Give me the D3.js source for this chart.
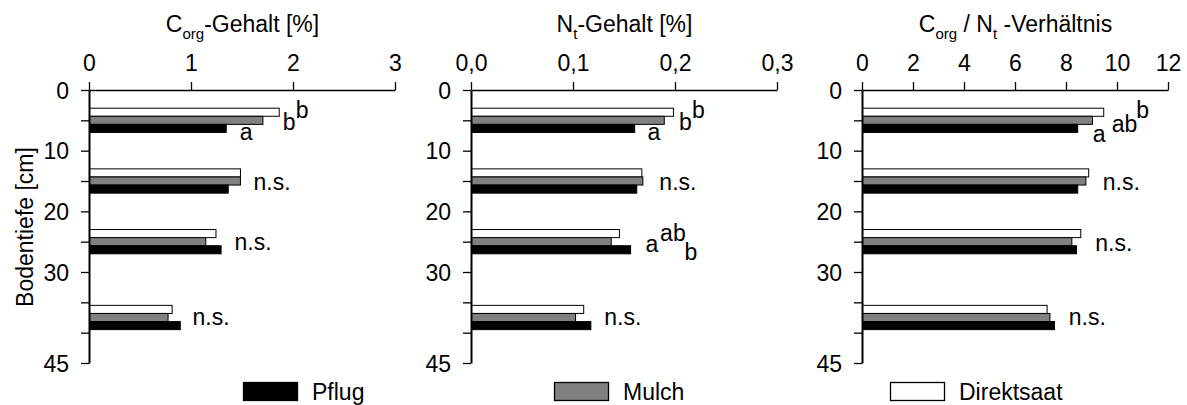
<!DOCTYPE html>
<html>
<head>
<meta charset="utf-8">
<script src="https://cdn.jsdelivr.net/npm/d3@7"></script>
<style>
  body { margin: 0; background: #fff; }
  svg { display: block; font-family: "Liberation Sans", Arial, Helvetica, sans-serif; }
</style>
</head>
<body>
<svg id="chart" width="1187" height="405"></svg>
<script>
// Soil layers (depth in cm) and their mid depths
const layerLabels = ["0-10", "10-20", "20-30", "30-45"];
const layerMid = [5, 15, 25, 37.5];
const depthTicks = [0, 5, 10, 15, 20, 25, 30, 35, 40, 45];
const depthLabels = [0, 10, 20, 30, 45];

// Tillage systems
const seriesNames = ["Pflug", "Mulch", "Direktsaat"];

// Organic carbon content [%]
const corgPflug = [1.34, 1.36, 1.29, 0.89];
const corgMulch = [1.70, 1.48, 1.14, 0.77];
const corgDirekt = [1.86, 1.48, 1.24, 0.81];
const corgTicks = [0, 1, 2, 3];

// Total nitrogen content [%]
const ntPflug = [0.160, 0.162, 0.156, 0.117];
const ntMulch = [0.189, 0.168, 0.137, 0.102];
const ntDirekt = [0.198, 0.167, 0.145, 0.110];
const ntTicks = [0, 0.1, 0.2, 0.3];

// C/N ratio
const cnPflug = [8.44, 8.44, 8.39, 7.53];
const cnMulch = [9.02, 8.76, 8.21, 7.35];
const cnDirekt = [9.46, 8.87, 8.56, 7.24];
const cnTicks = [0, 2, 4, 6, 8, 10, 12];

// Significance letters per layer
const sigCorg = [["a", "b", "b"], ["n.s."], ["n.s."], ["n.s."]];
const sigNt = [["a", "b", "b"], ["n.s."], ["a", "ab", "b"], ["n.s."]];
const sigCN = [["a", "ab", "b"], ["n.s."], ["n.s."], ["n.s."]];

// Letter placement: [dx from longest bar end, dy from layer centre] in px
const sigCorgPos = [[[-39, 19.7], [4, 9.7], [17, -2.3]], [[13.5, 9.3]], [[14, 8.3]], [[12.7, 7.5]]];
const sigNtPos = [[[-25.5, 19.7], [6, 9.7], [19, -2.3]], [[17, 9.3]], [[15.4, 10], [30, -0.7], [54.4, 18.3]], [[14, 7.5]]];
const sigCNPos = [[[-10.4, 21.4], [8.6, 11.4], [33, -2]], [[14.6, 9.3]], [[15, 9.5]], [[14.8, 7.5]]];

const FONT = 23;
const SUB = 15;
const fills = { "Pflug": "#000", "Mulch": "#808080", "Direktsaat": "#fff" };

const panels = [
  { left: 89, title: [["C", 0], ["org", 1], ["-Gehalt [%]", 0]],
    domain: [0, 3], ticks: corgTicks, fmt: d3.format("d"),
    series: { "Pflug": corgPflug, "Mulch": corgMulch, "Direktsaat": corgDirekt },
    sig: sigCorg, sigPos: sigCorgPos },
  { left: 471, title: [["N", 0], ["t", 1], ["-Gehalt [%]", 0]],
    domain: [0, 0.3], ticks: ntTicks, fmt: d => d3.format(".1f")(d).replace(".", ","),
    series: { "Pflug": ntPflug, "Mulch": ntMulch, "Direktsaat": ntDirekt },
    sig: sigNt, sigPos: sigNtPos },
  { left: 862, title: [["C", 0], ["org", 1], [" / N", 0], ["t", 1], [" -Verhältnis", 0]],
    domain: [0, 12], ticks: cnTicks, fmt: d3.format("d"),
    series: { "Pflug": cnPflug, "Mulch": cnMulch, "Direktsaat": cnDirekt },
    sig: sigCN, sigPos: sigCNPos }
];

const svg = d3.select("#chart");
const W = 306;
const y = d3.scaleLinear().domain([0, 45]).range([90, 363]);

panels.forEach(p => {
  const g = svg.append("g").attr("transform", `translate(${p.left},0)`);
  const x = d3.scaleLinear().domain(p.domain).range([0, W]);

  // bars
  layerMid.forEach((mid, i) => {
    const band = d3.scaleBand()
      .domain(["Direktsaat", "Mulch", "Pflug"])
      .range([y(mid - 2), y(mid + 2)]);
    ["Direktsaat", "Mulch", "Pflug"].forEach(s => {
      const v = p.series[s][i];
      g.append("rect")
        .attr("x", x(0) + 0.5)
        .attr("y", band(s))
        .attr("width", x(v) - x(0))
        .attr("height", band.bandwidth())
        .attr("fill", fills[s])
        .attr("stroke", "#000")
        .attr("stroke-width", 1);
    });

    // significance letters
    const maxV = d3.max(seriesNames, s => p.series[s][i]);
    p.sig[i].forEach((t, k) => {
      const [dx, dy] = p.sigPos[i][k];
      g.append("text")
        .attr("x", x(maxV) + dx)
        .attr("y", y(mid) + dy)
        .attr("font-size", FONT)
        .attr("fill", "#000")
        .text(t);
    });
  });

  // top value axis
  const ax = g.append("g").attr("transform", "translate(0,90)")
    .call(d3.axisTop(x).tickValues(p.ticks).tickFormat(p.fmt)
      .tickSize(8).tickSizeOuter(0).tickPadding(11.5));
  ax.select(".domain").attr("stroke", "#000").attr("stroke-width", 1.3);
  ax.selectAll(".tick line").attr("stroke", "#000").attr("stroke-width", 1.3);
  ax.selectAll("text").attr("font-size", FONT).attr("font-family", null).attr("fill", "#000");

  // depth axis
  const ay = g.append("g")
    .call(d3.axisLeft(y).tickValues(depthTicks)
      .tickFormat(d => depthLabels.includes(d) ? d : "")
      .tickSize(8).tickSizeOuter(0).tickPadding(12));
  ay.select(".domain").attr("stroke", "#000").attr("stroke-width", 2);
  ay.selectAll(".tick line").attr("stroke", "#000").attr("stroke-width", 1.3);
  ay.selectAll("text").attr("font-size", FONT).attr("font-family", null)
    .attr("fill", "#000").attr("dy", "0.36em");

  // panel title with subscripts
  const tt = g.append("text")
    .attr("x", W / 2 + 0.5).attr("y", 32)
    .attr("text-anchor", "middle")
    .attr("font-size", FONT).attr("fill", "#000");
  let shifted = 0;
  p.title.forEach(([s, sub]) => {
    const target = sub ? 7 : 0;
    tt.append("tspan")
      .attr("dy", target - shifted)
      .attr("font-size", sub ? SUB : FONT)
      .text(s);
    shifted = target;
  });
});

// depth axis title
svg.append("text")
  .attr("transform", "translate(32.5,227) rotate(-90)")
  .attr("text-anchor", "middle")
  .attr("font-size", FONT).attr("fill", "#000")
  .text("Bodentiefe [cm]");

// legend
const legendX = [243, 554, 890];
seriesNames.forEach((s, i) => {
  svg.append("rect")
    .attr("x", legendX[i] + 0.5).attr("y", 382.5)
    .attr("width", 54).attr("height", 18)
    .attr("fill", fills[s]).attr("stroke", "#000").attr("stroke-width", 1.3);
  svg.append("text")
    .attr("x", legendX[i] + 69).attr("y", 400)
    .attr("font-size", FONT).attr("fill", "#000")
    .text(s);
});
</script>
</body>
</html>
